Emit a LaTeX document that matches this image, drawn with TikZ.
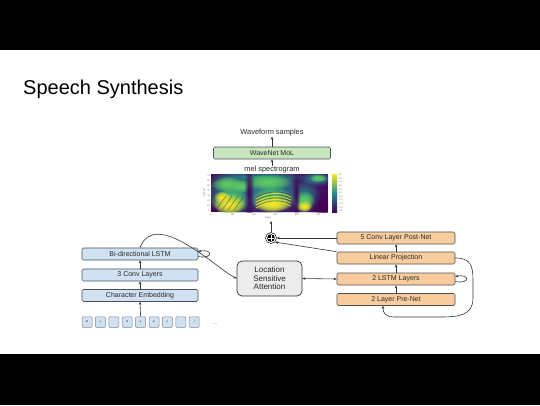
\documentclass[tikz,border=0pt]{standalone}
\usepackage{fontspec}
\setmainfont{Liberation Sans}
\usetikzlibrary{arrows.meta,calc,fadings}

\definecolor{encblue}{RGB}{208,226,242}
\definecolor{decorange}{RGB}{249,204,158}
\definecolor{wavegreen}{RGB}{200,230,188}
\definecolor{attngray}{RGB}{236,236,236}
\definecolor{boxedge}{RGB}{72,80,90}
\definecolor{boxtext}{RGB}{40,40,40}
% viridis steps for the spectrogram
\definecolor{vpurple}{RGB}{68,1,84}
\definecolor{vblue}{RGB}{59,82,139}
\definecolor{vteal}{RGB}{33,145,140}
\definecolor{vgreen}{RGB}{94,201,98}
\definecolor{vyellow}{RGB}{253,231,37}

\tikzfading[name=softblob, inner color=transparent!0, outer color=transparent!100]

\tikzset{
  layerbox/.style={draw=boxedge, line width=0.6pt, rounded corners=1.5pt, minimum height=12pt,
    inner sep=0pt, text=boxtext, font=\fontsize{7}{8}\selectfont},
  encbox/.style={layerbox, fill=encblue, minimum width=116pt},
  decbox/.style={layerbox, fill=decorange, minimum width=118pt},
  charbox/.style={draw=boxedge!70, line width=0.5pt, fill=encblue, rounded corners=1pt,
    minimum width=10pt, minimum height=10.5pt, inner sep=0pt, font=\fontsize{2.5}{3}\selectfont},
  caption/.style={inner sep=0pt, text=boxtext, font=\fontsize{7.4}{8}\selectfont},
  tinylabel/.style={inner sep=0pt, text=black!65, font=\fontsize{2.2}{2.5}\selectfont},
  blob/.style={fill=#1, path fading=softblob},
  flow/.style={-{Stealth[length=3pt,width=2.6pt]}, line width=0.6pt, draw=black!80},
}

\begin{document}
\begin{tikzpicture}[x=1pt,y=-1pt]
  \useasboundingbox (0,0) rectangle (540,405);
  \fill[black] (0,0) rectangle (540,50);
  \fill[black] (0,354) rectangle (540,405);

  \node[anchor=base west, inner sep=0pt, font=\fontsize{20}{24}\selectfont] (title) at (23,94) {Speech Synthesis};

  %% vocoder
  \node[caption] (waveform) at (272,133) {Waveform samples};
  \node[layerbox, fill=wavegreen, minimum width=117pt] (wavenet) at (272,153) {WaveNet MoL};
  \node[caption] (mel) at (272,169.5) {mel spectrogram};

  %% spectrogram picture
  \begin{scope}
    \clip (211,174) rectangle (328,212);
    \fill[vpurple] (211,174) rectangle (328,212);
    \foreach \cx/\cy/\rx/\ry/\col in {265/190/70/30/vblue, 318/179/18/8/vblue,
        232/191/30/24/vteal, 271/191/30/24/vteal, 305/197/15/18/vteal, 316/178/16/7/vteal,
        260/177/50/5/vteal} {
      \path[blob=\col] (\cx,\cy) ellipse ({\rx} and {\ry});
    }
    \foreach \rep in {1,2} { % twice, to make the bright parts stronger
      \foreach \cx/\cy/\rx/\ry/\col in {227/184/16/8/vgreen, 241/186/11/7/vgreen, 268/182/25/8/vgreen,
          304/201/11/10/vgreen, 318/178/9/4/vgreen, 230/201/20/13/vgreen, 272/199/22/12/vgreen,
          229/204/16/10/vyellow, 272/204/19/8/vyellow, 304/206/8/6/vyellow, 222/197/8/6/vyellow} {
        \path[blob=\col] (\cx,\cy) ellipse ({\rx} and {\ry});
      }
    }
    \path[blob=vpurple] (249,193) ellipse (5 and 40);
    \path[blob=vpurple] (296,195) ellipse (4 and 26);
    \path[blob=vpurple] (324,208) ellipse (16 and 16);
    % harmonic lines
    \foreach \dy in {0,3,6,9} {
      \draw[vyellow, line width=0.7pt, opacity=0.8] (256,{208-\dy}) .. controls (266,{202-\dy}) and (280,{200-\dy}) .. (291,{206-\dy});
      \draw[vpurple, line width=0.4pt, opacity=0.6] (256,{206.5-\dy}) .. controls (266,{200.5-\dy}) and (280,{198.5-\dy}) .. (291,{204.5-\dy});
    }
    \foreach \dx in {0,6,12,18} {
      \draw[vpurple, line width=0.4pt, opacity=0.6] ({216+\dx},210) -- ({226+\dx},196);
    }
  \end{scope}
  \shade[top color=vyellow, bottom color=vpurple, middle color=vteal] (332,174) rectangle (337,212);
  \foreach \v [count=\i from 0] in {4.0,3.2,2.4,1.6,0.8,0.0,-0.8,-1.6,-2.4,-3.2,-4.0} {
    \node[tinylabel, anchor=west] at (338.5,{175+3.6*\i}) {\v};
  }
  \foreach \v [count=\i from 0] in {0,100,200,300,400,500} {
    \node[tinylabel] at ({211+21.5*\i},214.5) {\v};
  }
  \foreach \v [count=\i from 0] in {0,10,20,30,40,50,60,70} {
    \node[tinylabel, anchor=east] at (210,{211-5*\i}) {\v};
  }
  \node[tinylabel] (framelabel) at (268,217.5) {Frame};
  \node[tinylabel, rotate=90] (chanlabel) at (204,193) {Channel};

  %% encoder
  \node[encbox] (bilstm) at (140,254) {Bi-directional LSTM};
  \node[encbox] (conv) at (140,275) {3 Conv Layers};
  \node[encbox] (charemb) at (140,295.5) {Character Embedding};
  \foreach \ch [count=\i] in {M,y,{},N,a,m,e,{},I} {
    \node[charbox] (ch\i) at ({87+13.4*(\i-1)},322) {\ch};
  }
  \node[tinylabel, font=\fontsize{5}{5}\selectfont] (dots) at (215,324) {...};

  %% attention
  \node[draw=black!80, line width=0.7pt, fill=attngray, rounded corners=5pt, minimum width=65pt,
    minimum height=35pt, inner sep=0pt, align=center, text=boxtext,
    font=\fontsize{8}{8.5}\selectfont] (attn) at (269.5,278.5) {Location\\Sensitive\\Attention};

  %% decoder
  \node[decbox] (postnet) at (396,238) {5 Conv Layer Post-Net};
  \node[decbox] (linproj) at (396,258) {Linear Projection};
  \node[decbox] (lstm) at (396,279) {2 LSTM Layers};
  \node[decbox] (prenet) at (396,299.5) {2 Layer Pre-Net};

  %% residual sum
  \node[circle, draw=black, line width=0.5pt, minimum size=11pt, inner sep=0pt] (sum) at (271,238) {};
  \fill[black] (sum.center) circle (3.8);
  \draw[white, line width=0.7pt] ($(sum.center)+(-2.6,0)$) -- ($(sum.center)+(2.6,0)$)
    ($(sum.center)+(0,-2.6)$) -- ($(sum.center)+(0,2.6)$);
  \coordinate (specin) at (271,221);

  %% connectors
  \draw[flow] (wavenet.north) -- (waveform.south);
  \draw[flow] (mel.north) -- (wavenet.south);
  \draw[flow] (sum.north) -- (specin);
  \draw[flow] (postnet.west) -- (sum.east);
  \draw[flow] (linproj.north west) -- (sum.south east);
  \draw[flow] (linproj.north) -- (postnet.south);
  \draw[flow] (lstm.north) -- (linproj.south);
  \draw[flow] (prenet.north) -- (lstm.south);
  \draw[flow, {Stealth[length=3pt,width=2.6pt]}-{Stealth[length=3pt,width=2.6pt]}] (attn.east) -- (lstm.west);
  \draw[flow] (ch5.north) -- (charemb.south);
  \draw[flow] (charemb.north) -- (conv.south);
  \draw[flow] (conv.north) -- (bilstm.south);
  \draw[flow] (bilstm.north) .. controls +(15,-40) and +(-20,-10) .. (attn.west);
  \draw[flow] ($(bilstm.east)+(0,2.5)$) .. controls +(15,3) and +(15,-3) .. ($(bilstm.east)+(0,-2.5)$);
  \draw[flow] ($(lstm.east)+(0,2.5)$) .. controls +(15,3) and +(15,-3) .. ($(lstm.east)+(0,-2.5)$);
  \draw[flow] (linproj.east) .. controls (470,258) and (473,265) .. (473,280) -- (473,298)
    .. controls (473,315) and (460,317) .. (440,317) -- (395,317)
    .. controls (385,317) and (383,313) .. ($(prenet.south)+(-13,0)$);
\end{tikzpicture}
\end{document}
